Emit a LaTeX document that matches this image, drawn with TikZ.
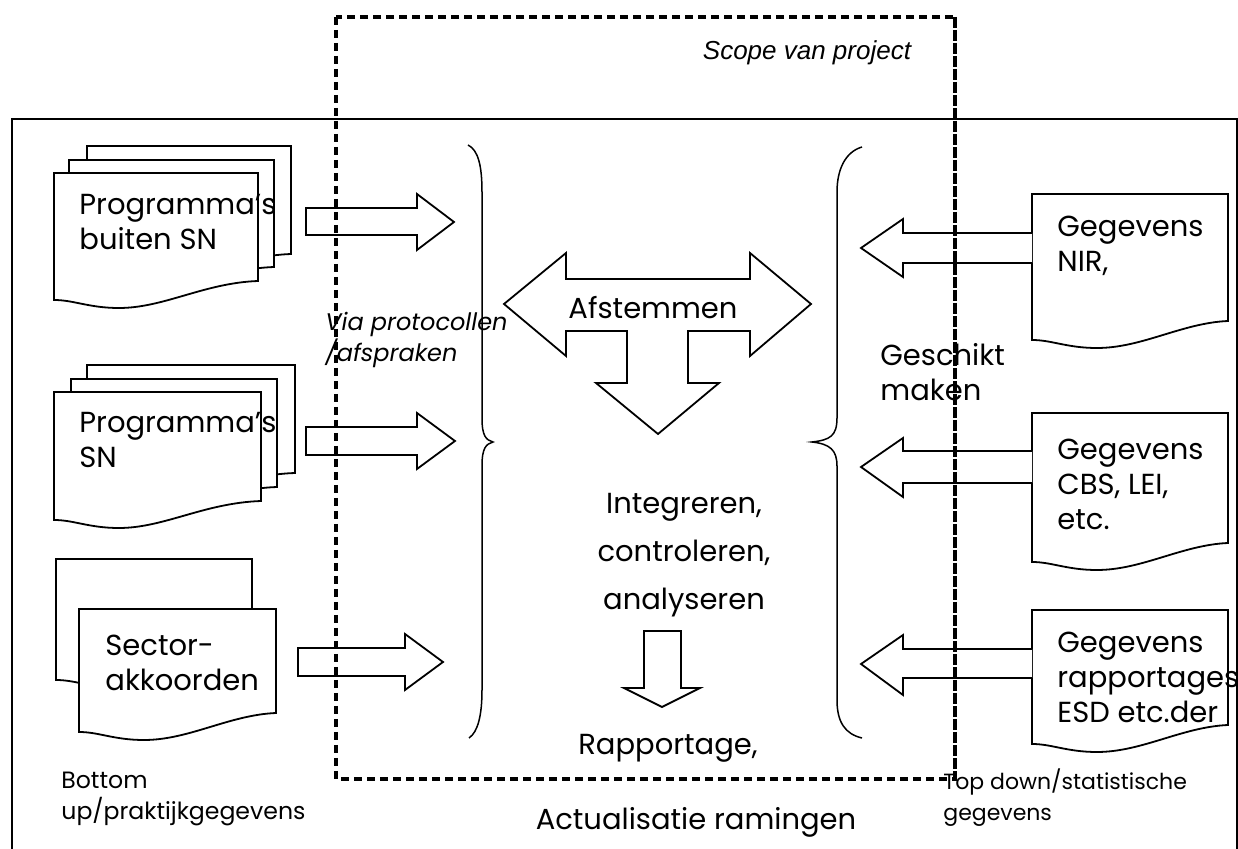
\documentclass[tikz,border=0pt]{standalone}
\usepackage{fontspec}
\setmainfont{Poppins}
\newfontfamily\arialfont{Liberation Sans}
\usepackage{tikz}

\newcommand{\docpage}[4]{%
  \draw[docbox] (#1,#2) -- (#3,#2) -- (#3,#4)
    .. controls (#1+150,#4+2) and (#1+110,#4+27) .. (#1+65,#4+27)
    .. controls (#1+35,#4+27) and (#1+20,#4+19) .. (#1,#4+19) -- cycle;}

\begin{document}
\begin{tikzpicture}[x=0.5pt, y=-0.5pt, line join=miter,
  docbox/.style={draw, fill=white, line width=0.9pt},
  blk/.style={draw, fill=white, line width=0.9pt},
  brace/.style={draw, line width=0.75pt},
  scopeline/.style={line width=1.6pt, dash pattern=on 4pt off 2.5pt},
  big/.style={inner sep=0, align=left, font=\fontsize{14.5}{17.5}\selectfont},
  mid/.style={inner sep=0, align=center, font=\fontsize{14.5}{24}\selectfont},
  note/.style={inner sep=0, align=left, anchor=west, font=\fontsize{11}{15.5}\selectfont}]
  \useasboundingbox (0,0) rectangle (1238,849);
  \draw[line width=0.6pt] (12,119) rectangle (1237,852);

  \docpage{87}{146}{291}{254}
  \docpage{69}{160}{274}{267}
  \docpage{54}{173}{258}{281}
  \node[big, anchor=west] (prog1) at (79,222) {Programma’s\\buiten SN};

  \docpage{87}{365}{295}{473}
  \docpage{71}{379}{277}{487}
  \docpage{54}{392}{261}{501}
  \node[big, anchor=west] (prog2) at (79,440) {Programma’s\\SN};

  \docpage{56}{559}{252}{661}
  \docpage{79}{609}{276}{713}
  \node[big, anchor=west] (sector) at (105,663) {Sector-\\akkoorden};

  \docpage{1032}{194}{1228}{321}
  \node[big, anchor=west] (nir) at (1057,246) {Gegevens\\NIR,};
  \docpage{1032}{413}{1228}{543}
  \node[big, anchor=west] (cbs) at (1057,484) {Gegevens\\CBS, LEI,\\etc.};
  \docpage{1032}{610}{1228}{725}
  \node[big, anchor=west] (esd) at (1057,677) {Gegevens\\rapportages\\ESD etc.der};

  \draw[blk] (306,208) -- (417,208) -- (417,194) -- (454,222) -- (417,250) -- (417,235) -- (306,235) -- cycle;
  \draw[blk] (306,427) -- (417,427) -- (417,413) -- (455,441) -- (417,469) -- (417,455) -- (306,455) -- cycle;
  \draw[blk] (298,648) -- (405,648) -- (405,634) -- (443,662) -- (405,690) -- (405,676) -- (298,676) -- cycle;
  \draw[blk] (1032,233) -- (903,233) -- (903,219) -- (861,248) -- (903,277) -- (903,263) -- (1032,263);
  \draw[blk] (1032,451) -- (903,451) -- (903,438) -- (861,467) -- (903,497) -- (903,483) -- (1032,483);
  \draw[blk] (1032,649) -- (903,649) -- (903,635) -- (861,664) -- (903,695) -- (903,678) -- (1032,678);

  \draw[brace] (468,145) .. controls (478,150) and (482,165) .. (482,192) -- (482,418)
    .. controls (482,436) and (486,440) .. (493,442) .. controls (486,444) and (482,448) .. (482,466)
    -- (482,690) .. controls (482,715) and (478,732) .. (469,738);
  \draw[brace] (862,147) .. controls (845,152) and (837,170) .. (837,192) -- (837,418)
    .. controls (837,436) and (830,440) .. (812,442) .. controls (830,444) and (837,450) .. (837,466)
    -- (837,700) .. controls (837,722) and (845,734) .. (862,738);

  \draw[blk] (504,304) -- (566,253) -- (566,279) -- (750,279) -- (750,253) -- (811,304)
    -- (750,356) -- (750,331) -- (688,331) -- (688,383) -- (719,383) -- (658,434)
    -- (596,383) -- (627,383) -- (627,331) -- (566,331) -- (566,356) -- cycle;
  \node[mid] (afst) at (653,308) {Afstemmen};
  \node[mid] (integ) at (684,555) {Integreren,\\controleren,\\analyseren};
  \draw[blk] (644,631) -- (681,631) -- (681,688) -- (700,688) -- (662,707) -- (624,688) -- (644,688) -- cycle;
  \node[mid] (rapp) at (668,748) {Rapportage,};
  \node[mid] (actual) at (696,822) {Actualisatie ramingen};

  \node[big, anchor=west] (geschikt) at (880,372) {Geschikt\\maken};
  \node[note, font=\fontsize{12}{13}\selectfont\itshape] (via) at (325,340) {Via protocollen\\/afspraken};
  \node[note, font=\fontsize{11.8}{15.5}\selectfont] (bottomup) at (61,799) {Bottom\\up/praktijkgegevens};
  \node[note] (topdown) at (943,798) {Top down/statistische\\gegevens};

  \draw[scopeline] (336,17) rectangle (955,779);
  \draw[scopeline, line width=2.4pt] (955,17) -- (955,779);
  \node[inner sep=0, font=\arialfont\itshape\fontsize{13}{15}\selectfont] (scope) at (807,53) {Scope van project};
\end{tikzpicture}
\end{document}
